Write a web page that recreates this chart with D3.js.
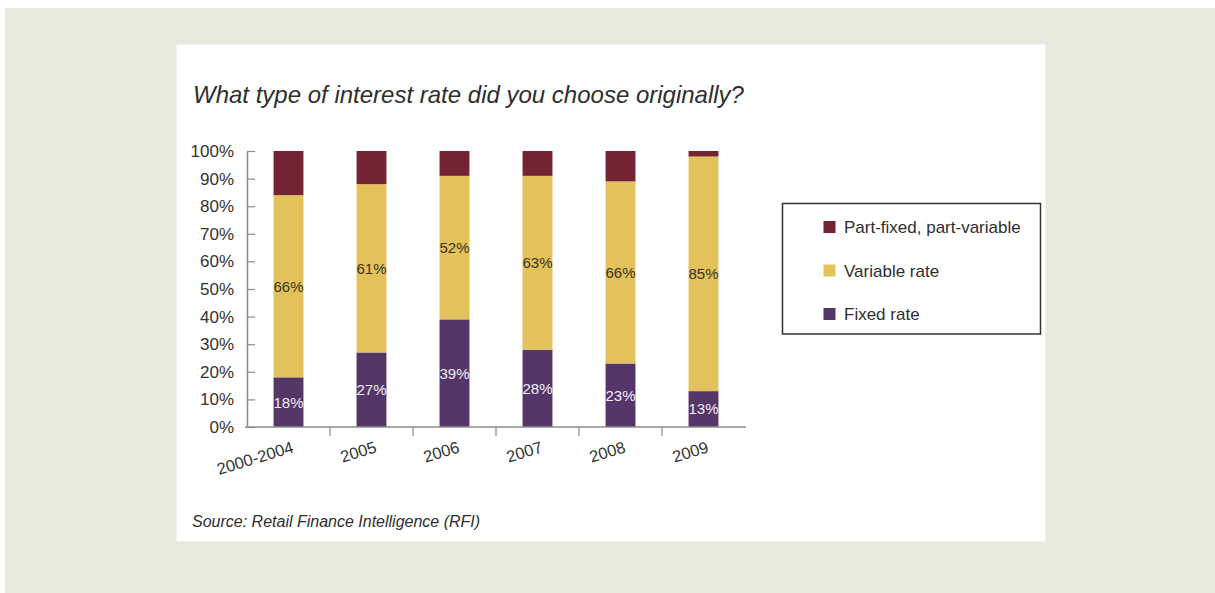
<!DOCTYPE html>
<html>
<head>
<meta charset="utf-8">
<script src="https://cdn.jsdelivr.net/npm/d3@7"></script>
<style>
  html, body { margin: 0; padding: 0; background: #ffffff; }
  svg { display: block; }
  text { font-family: 'Liberation Sans', Arial, sans-serif; }
</style>
</head>
<body>
<svg id="chart" width="1215" height="593"></svg>
<script>
// ---- data ----
const categories = ["2000-2004", "2005", "2006", "2007", "2008", "2009"];
const fixedRate = [18, 27, 39, 28, 23, 13];
const variableRate = [66, 61, 52, 63, 66, 85];
const partFixed = [16, 12, 9, 9, 11, 2];
const seriesNames = ["Fixed rate", "Variable rate", "Part-fixed, part-variable"];
const yTicks = [0, 10, 20, 30, 40, 50, 60, 70, 80, 90, 100];
const titleText = "What type of interest rate did you choose originally?";
const sourceText = "Source: Retail Finance Intelligence (RFI)";

const colors = { "Fixed rate": "#553669", "Variable rate": "#e3c15b", "Part-fixed, part-variable": "#742332" };

const svg = d3.select("#chart");

// background
svg.append("rect").attr("x", 5).attr("y", 8).attr("width", 1210).attr("height", 585).attr("fill", "#e7e9dc");
svg.append("rect").attr("x", 176).attr("y", 44).attr("width", 870).attr("height", 498)
  .attr("fill", "#ffffff").attr("stroke", "#f1e3e5").attr("stroke-width", 1);

// title
svg.append("text").attr("x", 193).attr("y", 103)
  .attr("font-size", 24).attr("font-style", "italic").attr("fill", "#2e2e2e")
  .text(titleText);

// scales
const x = d3.scaleBand().domain(categories).range([247, 745]).paddingInner(0.64).paddingOuter(0.32);
const xBand = d3.scaleBand().domain(categories).range([247, 745]).padding(0);
const y = d3.scaleLinear().domain([0, 100]).range([427, 151]);

// stacked data
const rows = categories.map((c, i) => ({
  cat: c,
  "Fixed rate": fixedRate[i],
  "Variable rate": variableRate[i],
  "Part-fixed, part-variable": partFixed[i]
}));
const stack = d3.stack().keys(seriesNames)(rows);

const g = svg.append("g");
stack.forEach(layer => {
  g.selectAll(null).data(layer).enter().append("rect")
    .attr("x", d => x(d.data.cat))
    .attr("width", x.bandwidth())
    .attr("y", d => y(d[1]))
    .attr("height", d => y(d[0]) - y(d[1]))
    .attr("fill", colors[layer.key]);
});

// bar labels for fixed and variable
[0, 1].forEach(k => {
  const layer = stack[k];
  g.selectAll(null).data(layer).enter().append("text")
    .attr("x", d => x(d.data.cat) + x.bandwidth() / 2)
    .attr("y", d => (y(d[0]) + y(d[1])) / 2)
    .attr("dy", "0.36em")
    .attr("text-anchor", "middle")
    .attr("font-size", 15)
    .attr("fill", k === 0 ? "#f2eef5" : "#38341f")
    .text(d => (d[1] - d[0]) + "%");
});

// y axis
const yAxis = d3.axisLeft(y).tickValues(yTicks).tickFormat(d => d + "%")
  .tickSizeInner(-8).tickSizeOuter(0).tickPadding(13);
const yg = svg.append("g").attr("transform", "translate(247,0)").call(yAxis);
yg.select(".domain").attr("stroke", "#8c8c8c").attr("stroke-width", 1.5);
yg.selectAll(".tick line").attr("stroke", "#8c8c8c").attr("stroke-width", 1.2);
yg.selectAll(".tick text").attr("font-size", 17).attr("fill", "#333").attr("font-family", "'Liberation Sans', Arial, sans-serif");

// x axis
svg.append("line").attr("x1", 245).attr("x2", 746).attr("y1", y(0)).attr("y2", y(0))
  .attr("stroke", "#8c8c8c").attr("stroke-width", 1.5);
svg.selectAll(null).data(categories.slice(1)).enter().append("line")
  .attr("x1", d => xBand(d)).attr("x2", d => xBand(d))
  .attr("y1", y(0)).attr("y2", y(0) + 9)
  .attr("stroke", "#8c8c8c").attr("stroke-width", 1.2);
svg.selectAll(null).data(categories).enter().append("text")
  .attr("text-anchor", "end")
  .attr("font-size", 16.5)
  .attr("fill", "#333")
  .attr("transform", d => `translate(${x(d) + x.bandwidth() / 2 + 6},452) rotate(-17)`)
  .text(d => d);

// legend
const lg = svg.append("g");
lg.append("rect").attr("x", 782.5).attr("y", 203.5).attr("width", 258).attr("height", 130.5)
  .attr("fill", "#fff").attr("stroke", "#333").attr("stroke-width", 1.5);
const legendOrder = ["Part-fixed, part-variable", "Variable rate", "Fixed rate"];
const ly = d3.scalePoint().domain(legendOrder).range([227, 314]);
legendOrder.forEach(name => {
  lg.append("rect").attr("x", 823.5).attr("y", ly(name) - 6).attr("width", 12).attr("height", 12)
    .attr("fill", colors[name]);
  lg.append("text").attr("x", 844).attr("y", ly(name)).attr("dy", "0.36em")
    .attr("font-size", 17).attr("fill", "#2e2e2e").text(name);
});

// source
svg.append("text").attr("x", 192).attr("y", 527)
  .attr("font-size", 16).attr("font-style", "italic").attr("fill", "#2e2e2e")
  .text(sourceText);
</script>
</body>
</html>
